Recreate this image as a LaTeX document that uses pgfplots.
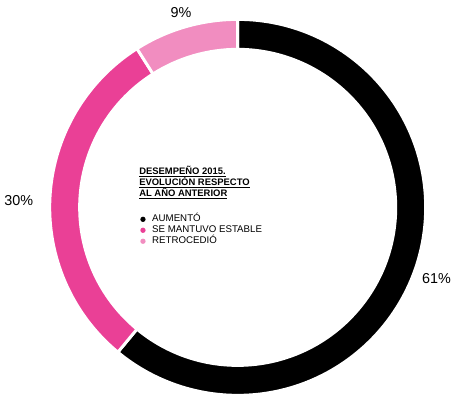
\documentclass[border=0pt]{standalone}
\usepackage{pgfplots}
\pgfplotsset{compat=1.18}
\usetikzlibrary{calc}
\usepackage{fontspec}
\setmainfont{Liberation Sans}

\definecolor{cblack}{RGB}{0,0,0}
\definecolor{cpink}{RGB}{234,64,150}
\definecolor{clight}{RGB}{241,141,192}

\begin{document}
\begin{tikzpicture}
% shares in percent
\def\aumento{61}
\def\estable{30}
\def\retro{9}
% angles, clockwise from the top
\pgfmathsetmacro\aA{90}
\pgfmathsetmacro\aB{\aA-3.6*\aumento}
\pgfmathsetmacro\aC{\aB-3.6*\estable}
\pgfmathsetmacro\aD{\aC-3.6*\retro}
\pgfmathsetmacro\mA{(\aA+\aB)/2}
\pgfmathsetmacro\mB{(\aB+\aC)/2}
\pgfmathsetmacro\mC{(\aC+\aD)/2}
\def\Ro{141.4pt}
\def\Rw{22.5pt}
\def\Ri{118.9pt}

\begin{axis}[
    hide axis,
    scale only axis,
    width=345pt,
    height=302.25pt,
    xmin=0, xmax=460,
    ymin=0, ymax=403,
    clip=false,
]
    \path (0,0) (460,403);
    % donut
    \filldraw[fill=cblack, draw=white, line width=2.2pt]
        (237,195) ++(\aA:\Ro) arc[start angle=\aA, end angle=\aB, radius=\Ro]
        -- ++(\aB:-\Rw) arc[start angle=\aB, end angle=\aA, radius=\Ri] -- cycle;
    \filldraw[fill=cpink, draw=white, line width=2.2pt]
        (237,195) ++(\aB:\Ro) arc[start angle=\aB, end angle=\aC, radius=\Ro]
        -- ++(\aC:-\Rw) arc[start angle=\aC, end angle=\aB, radius=\Ri] -- cycle;
    \filldraw[fill=clight, draw=white, line width=2.2pt]
        (237,195) ++(\aC:\Ro) arc[start angle=\aC, end angle=\aD, radius=\Ro]
        -- ++(\aD:-\Rw) arc[start angle=\aD, end angle=\aC, radius=\Ri] -- cycle;

    % value labels
    \node[font=\fontsize{10.8}{12}\selectfont] at ($(237,195)+(\mA:159pt)$) {\aumento\%};
    \node[font=\fontsize{10.8}{12}\selectfont, yshift=-5pt] at ($(237,195)+(\mB:165pt)$) {\estable\%};
    \node[font=\fontsize{10.8}{12}\selectfont] at ($(237,195)+(\mC:153pt)$) {\retro\%};

    % title
    \node[anchor=base west, inner sep=0pt, font=\bfseries\fontsize{7.1}{8}\selectfont] at (138,228) {\underline{DESEMPEÑO 2015.}};
    \node[anchor=base west, inner sep=0pt, font=\bfseries\fontsize{7.1}{8}\selectfont] at (138,217) {\underline{EVOLUCIÓN RESPECTO}};
    \node[anchor=base west, inner sep=0pt, font=\bfseries\fontsize{7.1}{8}\selectfont] at (138,206) {\underline{AL AÑO ANTERIOR}};

    % legend
    \fill[cblack] (142,183) circle[radius=2pt];
    \fill[cpink]  (142,172) circle[radius=2pt];
    \fill[clight] (142,161) circle[radius=2pt];
    \node[anchor=base west, inner sep=0pt, font=\fontsize{7.3}{8}\selectfont] at (151,181) {AUMENTÓ};
    \node[anchor=base west, inner sep=0pt, font=\fontsize{7.3}{8}\selectfont] at (151,170) {SE MANTUVO ESTABLE};
    \node[anchor=base west, inner sep=0pt, font=\fontsize{7.3}{8}\selectfont] at (151,159) {RETROCEDIÓ};
\end{axis}
\end{tikzpicture}
\end{document}
